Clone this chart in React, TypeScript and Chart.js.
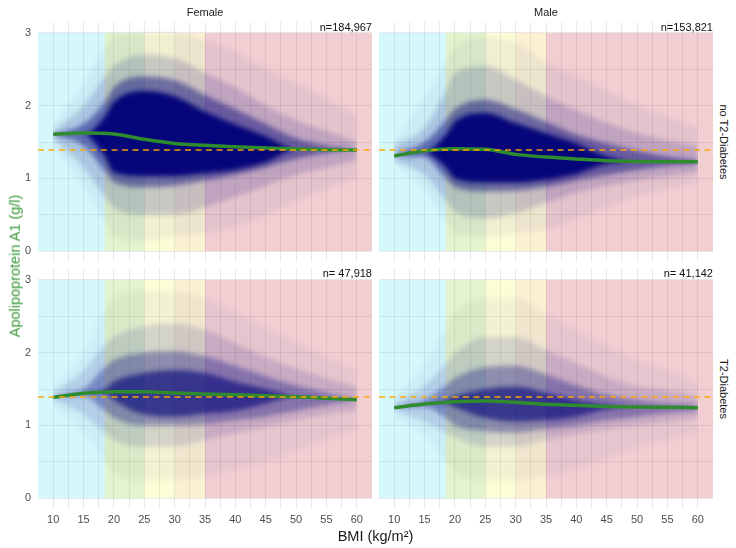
import React, { useEffect, useRef } from "react";
import { Chart, registerables } from "chart.js";

// ---------------- data ----------------
const cloudBMI = [10, 15, 18.5, 20, 25, 30, 35, 40, 45, 50, 55, 60];
const smoothBMI = [10, 15, 20, 25, 30, 35, 40, 45, 50, 55, 60];
const refLevel = 1.39;
const bandEdges = [18.5, 25, 30, 35];
const bandRange = [0, 3];
const sexLabels = ["Female", "Male"];
const groupLabels = ["no T2-Diabetes", "T2-Diabetes"];
const nLabels = ["n=184,967", "n=153,821", "n= 47,918", "n= 41,142"];
const xTitle = "BMI (kg/m²)";
const yTitle = "Apolipoprotein A1 (g/l)";

// smoothed means
const smoothFemaleNo = [1.606, 1.625, 1.61, 1.537, 1.48, 1.454, 1.436, 1.417, 1.404, 1.394, 1.39];
const smoothMaleNo = [1.307, 1.38, 1.408, 1.4, 1.33, 1.293, 1.266, 1.243, 1.233, 1.229, 1.229];
const smoothFemaleT2 = [1.385, 1.44, 1.463, 1.463, 1.445, 1.43, 1.42, 1.408, 1.394, 1.372, 1.353];
const smoothMaleT2 = [1.243, 1.294, 1.326, 1.335, 1.317, 1.289, 1.275, 1.261, 1.252, 1.248, 1.243];

// point-cloud envelopes (lower / upper edges of density levels)
const femaleNoOuterLo = [1.45, 0.9, 0.4, 0.2, 0.15, 0.2, 0.25, 0.35, 0.5, 0.7, 0.85, 1.0];
const femaleNoOuterHi = [1.75, 2.3, 2.8, 2.95, 3.0, 3.0, 2.9, 2.75, 2.5, 2.3, 2.1, 1.85];
const femaleNoHaloLo = [1.55, 1.15, 0.75, 0.6, 0.5, 0.5, 0.6, 0.75, 0.9, 1.05, 1.15, 1.25];
const femaleNoHaloHi = [1.65, 2.0, 2.4, 2.55, 2.7, 2.65, 2.45, 2.25, 2.0, 1.8, 1.65, 1.5];
const femaleNoMidLo = [1.6, 1.45, 1.1, 0.95, 0.88, 0.9, 0.97, 1.05, 1.15, 1.27, 1.35, 1.4];
const femaleNoMidHi = [1.6, 1.75, 2.05, 2.25, 2.4, 2.35, 2.15, 1.95, 1.75, 1.55, 1.45, 1.4];
const femaleNoCoreLo = [1.6, 1.6, 1.3, 1.08, 1.03, 1.03, 1.07, 1.12, 1.22, 1.4, 1.4, 1.4];
const femaleNoCoreHi = [1.6, 1.6, 1.85, 2.05, 2.2, 2.13, 1.92, 1.74, 1.58, 1.4, 1.4, 1.4];

const maleNoOuterLo = [1.2, 0.85, 0.4, 0.25, 0.2, 0.25, 0.3, 0.45, 0.6, 0.75, 0.85, 0.95];
const maleNoOuterHi = [1.5, 2.1, 2.6, 2.8, 2.95, 2.85, 2.6, 2.4, 2.2, 2.0, 1.85, 1.7];
const maleNoHaloLo = [1.25, 1.05, 0.7, 0.55, 0.45, 0.52, 0.66, 0.8, 0.9, 0.97, 1.03, 1.08];
const maleNoHaloHi = [1.45, 1.7, 2.2, 2.45, 2.54, 2.36, 2.13, 1.94, 1.76, 1.62, 1.52, 1.45];
const maleNoMidLo = [1.35, 1.3, 1.0, 0.88, 0.82, 0.83, 0.88, 0.97, 1.05, 1.12, 1.17, 1.2];
const maleNoMidHi = [1.35, 1.5, 1.8, 1.95, 2.08, 1.95, 1.78, 1.6, 1.48, 1.38, 1.3, 1.25];
const maleNoCoreLo = [1.3, 1.35, 1.15, 1.0, 0.94, 0.94, 0.98, 1.06, 1.2, 1.23, 1.23, 1.23];
const maleNoCoreHi = [1.3, 1.35, 1.6, 1.78, 1.9, 1.76, 1.62, 1.48, 1.3, 1.23, 1.23, 1.23];

const femaleT2OuterLo = [1.25, 0.9, 0.5, 0.35, 0.25, 0.25, 0.3, 0.4, 0.5, 0.65, 0.8, 0.95];
const femaleT2OuterHi = [1.55, 2.0, 2.6, 2.75, 2.85, 2.85, 2.75, 2.55, 2.35, 2.15, 1.95, 1.75];
const femaleT2HaloLo = [1.35, 1.15, 0.9, 0.8, 0.71, 0.71, 0.8, 0.89, 0.98, 1.07, 1.15, 1.2];
const femaleT2HaloHi = [1.45, 1.75, 2.1, 2.22, 2.36, 2.4, 2.31, 2.13, 1.94, 1.78, 1.65, 1.52];
const femaleT2MidLo = [1.4, 1.4, 1.2, 1.1, 1.0, 1.0, 1.02, 1.07, 1.12, 1.2, 1.28, 1.35];
const femaleT2MidHi = [1.4, 1.5, 1.8, 1.9, 2.0, 2.02, 1.95, 1.82, 1.68, 1.55, 1.45, 1.35];
const femaleT2CoreLo = [1.4, 1.45, 1.45, 1.35, 1.15, 1.12, 1.16, 1.2, 1.3, 1.4, 1.38, 1.35];
const femaleT2CoreHi = [1.4, 1.45, 1.5, 1.6, 1.72, 1.76, 1.72, 1.6, 1.5, 1.4, 1.38, 1.35];

const maleT2OuterLo = [1.1, 0.85, 0.5, 0.35, 0.25, 0.25, 0.3, 0.4, 0.55, 0.7, 0.8, 0.9];
const maleT2OuterHi = [1.4, 1.85, 2.35, 2.55, 2.75, 2.75, 2.55, 2.3, 2.1, 1.9, 1.75, 1.6];
const maleT2HaloLo = [1.2, 1.05, 0.9, 0.84, 0.71, 0.71, 0.8, 0.88, 0.95, 1.0, 1.05, 1.1];
const maleT2HaloHi = [1.3, 1.55, 1.85, 1.99, 2.22, 2.22, 2.04, 1.85, 1.67, 1.53, 1.48, 1.4];
const maleT2MidLo = [1.25, 1.25, 1.1, 1.0, 0.92, 0.9, 0.95, 1.0, 1.07, 1.12, 1.17, 1.2];
const maleT2MidHi = [1.25, 1.35, 1.55, 1.65, 1.8, 1.82, 1.7, 1.55, 1.42, 1.35, 1.3, 1.28];
const maleT2CoreLo = [1.25, 1.3, 1.3, 1.25, 1.1, 1.05, 1.07, 1.12, 1.22, 1.25, 1.25, 1.25];
const maleT2CoreHi = [1.25, 1.3, 1.35, 1.4, 1.5, 1.53, 1.45, 1.35, 1.28, 1.25, 1.25, 1.25];

// ---------------- styling ----------------
const FONT = '"Liberation Sans", Arial, sans-serif';
const bandColors = [
  "rgba(8,214,237,0.17)",
  "rgba(110,200,5,0.2)",
  "rgba(240,240,50,0.2)",
  "rgba(230,180,30,0.2)",
  "rgba(180,10,30,0.2)",
];

// runs before the built-in filler: draws BMI bands, then softens the cloud fills
const preFillPlugin = {
  id: "bmiBandsPre",
  beforeDatasetsDraw(chart: any) {
    const { ctx, chartArea, scales } = chart;
    const xs = scales.x;
    const ys = scales.y;
    if (!xs || !ys) return;
    const yTop = ys.getPixelForValue(bandRange[1]);
    const yBot = ys.getPixelForValue(bandRange[0]);
    const px = [chartArea.left, ...bandEdges.map((b) => xs.getPixelForValue(b)), chartArea.right];
    ctx.save();
    for (let i = 0; i < bandColors.length; i++) {
      ctx.fillStyle = bandColors[i];
      ctx.fillRect(px[i], yTop, px[i + 1] - px[i], yBot - yTop);
    }
    ctx.restore();
    ctx.save();
    ctx.filter = "blur(2.5px)";
  },
};
// runs after the filler: stop softening before lines are drawn
const postFillPlugin = {
  id: "bmiBandsPost",
  beforeDatasetsDraw(chart: any) {
    chart.ctx.restore();
  },
};

Chart.register(preFillPlugin as any);
Chart.register(...registerables);
Chart.register(postFillPlugin as any);

type PanelSpec = {
  left: number;
  top: number;
  w: number;
  h: number;
  padTop: number;
  yAxisW: number;
  xAxisH: number;
  smooth: number[];
  layers: number[][];
  alphas: number[];
};

const panels: PanelSpec[] = [
  {
    left: 0, top: 0, w: 372, h: 262, padTop: 22, yAxisW: 38, xAxisH: 0,
    smooth: smoothFemaleNo,
    layers: [femaleNoOuterLo, femaleNoOuterHi, femaleNoHaloLo, femaleNoHaloHi, femaleNoMidLo, femaleNoMidHi, femaleNoCoreLo, femaleNoCoreHi],
    alphas: [0.05, 0.16, 0.45, 0.94],
  },
  {
    left: 379, top: 0, w: 334, h: 262, padTop: 22, yAxisW: 0, xAxisH: 0,
    smooth: smoothMaleNo,
    layers: [maleNoOuterLo, maleNoOuterHi, maleNoHaloLo, maleNoHaloHi, maleNoMidLo, maleNoMidHi, maleNoCoreLo, maleNoCoreHi],
    alphas: [0.05, 0.16, 0.45, 0.94],
  },
  {
    left: 0, top: 269, w: 372, h: 261, padTop: 0, yAxisW: 38, xAxisH: 21,
    smooth: smoothFemaleT2,
    layers: [femaleT2OuterLo, femaleT2OuterHi, femaleT2HaloLo, femaleT2HaloHi, femaleT2MidLo, femaleT2MidHi, femaleT2CoreLo, femaleT2CoreHi],
    alphas: [0.04, 0.13, 0.33, 0.6],
  },
  {
    left: 379, top: 269, w: 334, h: 261, padTop: 0, yAxisW: 0, xAxisH: 21,
    smooth: smoothMaleT2,
    layers: [maleT2OuterLo, maleT2OuterHi, maleT2HaloLo, maleT2HaloHi, maleT2MidLo, maleT2MidHi, maleT2CoreLo, maleT2CoreHi],
    alphas: [0.04, 0.13, 0.33, 0.6],
  },
];

function zeroPad(s: any) {
  s.paddingTop = 0;
  s.paddingBottom = 0;
  s.paddingLeft = 0;
  s.paddingRight = 0;
}

function Panel({ spec }: { spec: PanelSpec }) {
  const ref = useRef<HTMLCanvasElement>(null);
  useEffect(() => {
    if (!ref.current) return;
    const toPts = (xs: number[], ys: number[]) => xs.map((x, i) => ({ x, y: ys[i] }));
    const datasets: any[] = [];
    const layerOrders = [5, 4, 3, 2];
    for (let l = 0; l < 4; l++) {
      const lo = spec.layers[l * 2];
      const hi = spec.layers[l * 2 + 1];
      datasets.push({
        data: toPts(cloudBMI, lo),
        borderColor: "transparent",
        borderWidth: 0,
        pointRadius: 0,
        fill: false,
        cubicInterpolationMode: "monotone",
        order: layerOrders[l],
      });
      datasets.push({
        data: toPts(cloudBMI, hi),
        borderColor: "transparent",
        borderWidth: 0,
        pointRadius: 0,
        fill: "-1",
        backgroundColor: `rgba(0,0,120,${spec.alphas[l]})`,
        cubicInterpolationMode: "monotone",
        order: layerOrders[l],
      });
    }
    datasets.push({
      data: toPts(smoothBMI, spec.smooth),
      borderColor: "#2e8b2e",
      borderWidth: 3.5,
      pointRadius: 0,
      fill: false,
      cubicInterpolationMode: "monotone",
      borderCapStyle: "butt",
      order: 1,
    });
    datasets.push({
      data: [
        { x: 7.5, y: refLevel },
        { x: 62.5, y: refLevel },
      ],
      borderColor: "rgba(255,165,0,0.95)",
      borderWidth: 1.6,
      borderDash: [6, 4.5],
      pointRadius: 0,
      fill: false,
      order: 0,
    });

    const gridColor = (ctx: any) => {
      const v = ctx.tick ? ctx.tick.value : 0;
      if (v === 7.5 || v === 62.5) return "rgba(0,0,0,0)";
      return "rgba(0,0,0,0.085)";
    };

    const chart = new Chart(ref.current, {
      type: "line",
      data: { datasets },
      options: {
        responsive: false,
        animation: false,
        events: [],
        layout: { padding: { top: spec.padTop, left: 0, right: 0, bottom: 0 }, autoPadding: false },
        plugins: {
          legend: { display: false },
          tooltip: { enabled: false },
          filler: { drawTime: "beforeDatasetsDraw" },
        },
        scales: {
          x: {
            type: "linear",
            min: 7.5,
            max: 62.5,
            border: { display: false },
            grid: { color: gridColor, lineWidth: 1, drawTicks: false },
            ticks: {
              display: spec.xAxisH > 0,
              stepSize: 2.5,
              autoSkip: false,
              maxRotation: 0,
              padding: 4,
              color: "#4d4d4d",
              font: { family: FONT, size: 11 },
              callback: (v: any) => {
                const n = Number(v);
                return n % 5 === 0 && n >= 10 && n <= 60 ? String(n) : "";
              },
            },
            afterFit: (s: any) => {
              s.height = spec.xAxisH;
              zeroPad(s);
            },
          },
          y: {
            type: "linear",
            min: -0.15,
            max: 3.15,
            border: { display: false },
            grid: { color: "rgba(0,0,0,0.085)", lineWidth: 1, drawTicks: false },
            ticks: {
              display: spec.yAxisW > 0,
              stepSize: 0.5,
              includeBounds: false,
              padding: 7,
              color: "#4d4d4d",
              font: { family: FONT, size: 11 },
              callback: (v: any) => {
                const n = Number(v);
                return Number.isInteger(n) ? String(n) : "";
              },
            },
            afterFit: (s: any) => {
              s.width = spec.yAxisW;
              zeroPad(s);
            },
          },
        },
      } as any,
    });
    return () => chart.destroy();
  }, [spec]);

  return (
    <div style={{ position: "absolute", left: spec.left, top: spec.top, width: spec.w, height: spec.h }}>
      <canvas ref={ref} width={spec.w} height={spec.h} style={{ width: spec.w, height: spec.h, display: "block" }} />
    </div>
  );
}

const textBase: React.CSSProperties = {
  position: "absolute",
  whiteSpace: "nowrap",
  fontFamily: FONT,
  lineHeight: 1,
};

export default function App() {
  return (
    <div style={{ position: "absolute", left: 0, top: 0, width: 736, height: 548, background: "#ffffff", overflow: "hidden" }}>
      {panels.map((p, i) => (
        <Panel key={i} spec={p} />
      ))}
      {sexLabels.map((s, i) => (
        <div
          key={s}
          style={{ ...textBase, left: i === 0 ? 205 : 546, top: 12, transform: "translate(-50%,-50%)", fontSize: 11, color: "#1a1a1a" }}
        >
          {s}
        </div>
      ))}
      {groupLabels.map((g, i) => (
        <div
          key={g}
          style={{ ...textBase, left: 723, top: i === 0 ? 142 : 389, transform: "translate(-50%,-50%) rotate(90deg)", fontSize: 11, color: "#1a1a1a" }}
        >
          {g}
        </div>
      ))}
      {nLabels.map((n, i) => (
        <div
          key={n}
          style={{
            ...textBase,
            right: i % 2 === 0 ? 736 - 372 : 736 - 713,
            top: i < 2 ? 27 : 273,
            transform: "translateY(-50%)",
            fontSize: 11,
            color: "#111",
          }}
        >
          {n}
        </div>
      ))}
      <div style={{ ...textBase, left: 375.5, top: 536, transform: "translate(-50%,-50%)", fontSize: 14.5, color: "#1a1a1a" }}>
        {xTitle}
      </div>
      <div
        style={{ ...textBase, left: 15, top: 266, transform: "translate(-50%,-50%) rotate(-90deg)", fontSize: 14.5, color: "#3a9a3a" }}
      >
        {yTitle}
      </div>
    </div>
  );
}
